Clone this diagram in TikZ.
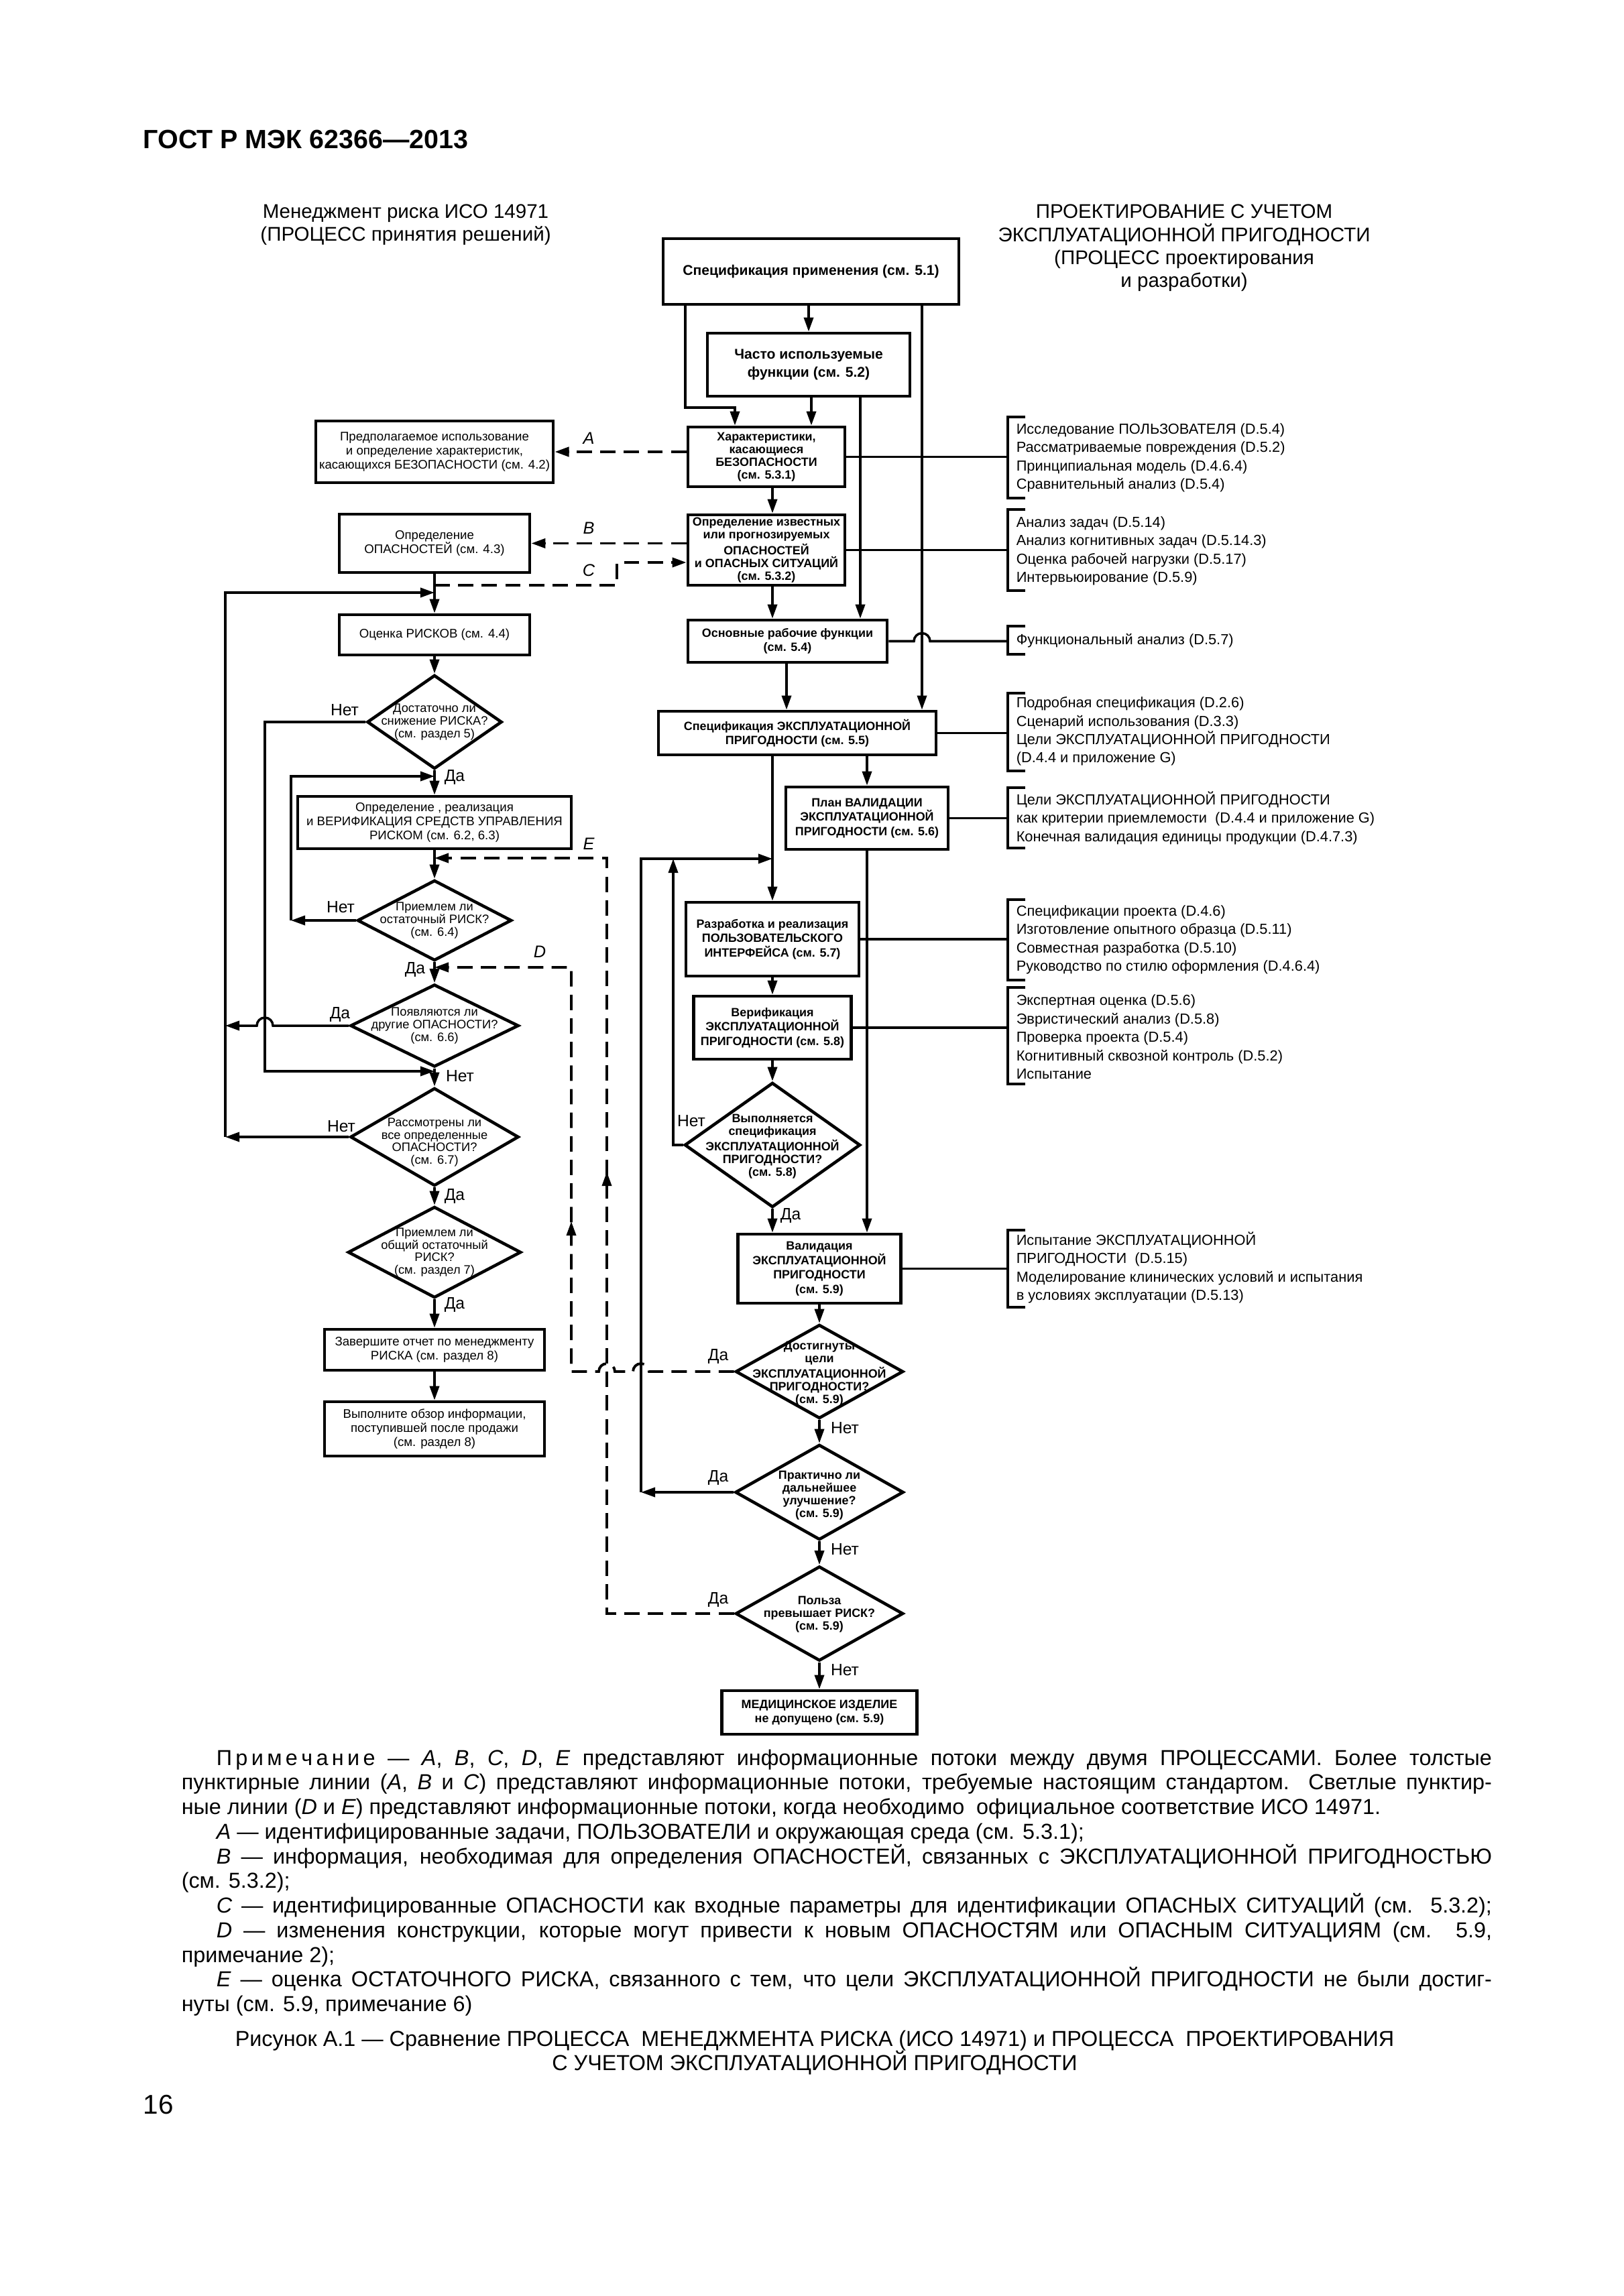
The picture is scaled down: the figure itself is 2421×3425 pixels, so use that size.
\documentclass[tikz,border=0pt]{standalone}
\usepackage{fontspec}
\setmainfont{Liberation Sans}
\usetikzlibrary{shapes.geometric,arrows.meta}

\newcommand{\ttlfnt}{\fontsize{11.2}{13}\selectfont\bfseries}
\newcommand{\hfnt}{\fontsize{8.4}{9.8}\selectfont}
\newcommand{\cbig}{\fontsize{6}{7.6}\selectfont\bfseries}
\newcommand{\cfnt}{\fontsize{5.1}{6.1}\selectfont\bfseries}
\newcommand{\ctight}{\fontsize{5.1}{5.4}\selectfont\bfseries}
\newcommand{\lfnt}{\fontsize{5.3}{6}\selectfont}
\newcommand{\ldfnt}{\fontsize{5.2}{5.3}\selectfont}
\newcommand{\rfnt}{\fontsize{6.2}{7.8}\selectfont}
\newcommand{\ynfnt}{\fontsize{7}{8}\selectfont}
\newcommand{\abcfnt}{\fontsize{7.2}{8}\selectfont\itshape}
\newcommand{\notefnt}{\fontsize{9.2}{10.45}\selectfont}

\tikzset{
  proc/.style={draw, line width=1.3pt, inner sep=0pt, align=center, font=\cfnt},
  lproc/.style={draw, line width=1.3pt, inner sep=0pt, align=center, font=\lfnt},
  decision/.style={diamond, draw, line width=1.3pt, inner sep=0pt},
  dtxt/.style={inner sep=0pt, align=center, font=\ctight},
  ldtxt/.style={inner sep=0pt, align=center, font=\ldfnt},
  yn/.style={inner sep=0pt, font=\ynfnt},
  flowname/.style={inner sep=0pt, font=\abcfnt},
  dline/.style={line width=1.1pt, dash pattern=on 6.5pt off 3.5pt},
  brk/.style={line width=1.2pt},
  refs/.style={anchor=west, inner sep=0pt, align=left, font=\rfnt},
}

\begin{document}
\begin{tikzpicture}[x=0.01cm,y=-0.01cm,>={Triangle[length=6pt,width=4pt]},line width=1pt]
  \path[use as bounding box, fill=white] (0,0) rectangle (2421,3425);

  % headings
  \node[anchor=west, inner sep=0pt, font=\ttlfnt] (title) at (212,208) {ГОСТ Р МЭК 62366—2013};
  \node[align=center, inner sep=0pt, font=\hfnt] (hleft) at (605,335)
    {Менеджмент риска ИСО 14971\\(ПРОЦЕСС принятия решений)};
  \node[align=center, inner sep=0pt, font=\hfnt] (hright) at (1766,370)
    {ПРОЕКТИРОВАНИЕ С УЧЕТОМ\\ЭКСПЛУАТАЦИОННОЙ ПРИГОДНОСТИ\\(ПРОЦЕСС проектирования\\и разработки)};

  % design process (right column)
  \node[proc, font=\cbig, minimum width=4.41cm, minimum height=0.98cm] (b1) at (1209.5,405)
    {Спецификация применения (см. 5.1)};
  \node[proc, font=\cbig, minimum width=3.02cm, minimum height=0.94cm] (b2) at (1206,544)
    {Часто используемые\\функции (см. 5.2)};
  \node[proc, font=\ctight, minimum width=2.34cm, minimum height=0.89cm] (b3) at (1143,681.5)
    {Характеристики,\\касающиеся\\БЕЗОПАСНОСТИ\\(см. 5.3.1)};
  \node[proc, font=\ctight, minimum width=2.34cm, minimum height=1.05cm] (b4) at (1143,820.5)
    {Определение известных\\или прогнозируемых\\ОПАСНОСТЕЙ\\и ОПАСНЫХ СИТУАЦИЙ\\(см. 5.3.2)};
  \node[proc, minimum width=2.97cm, minimum height=0.63cm] (b5) at (1174.5,956.5)
    {Основные рабочие функции\\(см. 5.4)};
  \node[proc, minimum width=4.14cm, minimum height=0.65cm] (b6) at (1189,1093.5)
    {Спецификация ЭКСПЛУАТАЦИОННОЙ\\ПРИГОДНОСТИ (см. 5.5)};
  \node[proc, minimum width=2.42cm, minimum height=0.93cm] (b7) at (1293,1220.5)
    {План ВАЛИДАЦИИ\\ЭКСПЛУАТАЦИОННОЙ\\ПРИГОДНОСТИ (см. 5.6)};
  \node[proc, minimum width=2.58cm, minimum height=1.10cm] (b8) at (1152,1401)
    {Разработка и реализация\\ПОЛЬЗОВАТЕЛЬСКОГО\\ИНТЕРФЕЙСА (см. 5.7)};
  \node[proc, minimum width=2.35cm, minimum height=0.94cm] (b9) at (1152,1533)
    {Верификация\\ЭКСПЛУАТАЦИОННОЙ\\ПРИГОДНОСТИ (см. 5.8)};
  \node[decision, minimum width=2.62cm, minimum height=1.86cm] (d1) at (1152,1708) {};
  \node[dtxt] (d1t) at (1152,1710)
    {Выполняется\\спецификация\\ЭКСПЛУАТАЦИОННОЙ\\ПРИГОДНОСТИ?\\(см. 5.8)};
  \node[proc, minimum width=2.43cm, minimum height=1.03cm] (b10) at (1222,1892.5)
    {Валидация\\ЭКСПЛУАТАЦИОННОЙ\\ПРИГОДНОСТИ\\(см. 5.9)};
  \node[decision, minimum width=2.50cm, minimum height=1.40cm] (d2) at (1222,2046) {};
  \node[dtxt] (d2t) at (1222,2049)
    {Достигнуты\\цели\\ЭКСПЛУАТАЦИОННОЙ\\ПРИГОДНОСТИ?\\(см. 5.9)};
  \node[decision, minimum width=2.51cm, minimum height=1.42cm] (d3) at (1222,2226) {};
  \node[dtxt] (d3t) at (1222,2231)
    {Практично ли\\дальнейшее\\улучшение?\\(см. 5.9)};
  \node[decision, minimum width=2.50cm, minimum height=1.41cm] (d4) at (1222,2407) {};
  \node[dtxt] (d4t) at (1222,2408)
    {Польза\\превышает РИСК?\\(см. 5.9)};
  \node[proc, minimum width=2.91cm, minimum height=0.65cm] (b11) at (1222,2554.5)
    {МЕДИЦИНСКОЕ ИЗДЕЛИЕ\\не допущено (см. 5.9)};

  % risk management (left column)
  \node[lproc, minimum width=3.54cm, minimum height=0.92cm] (l1) at (648,674)
    {Предполагаемое использование\\и определение характеристик,\\касающихся БЕЗОПАСНОСТИ (см. 4.2)};
  \node[lproc, minimum width=2.84cm, minimum height=0.87cm] (l2) at (648,810.5)
    {Определение\\ОПАСНОСТЕЙ (см. 4.3)};
  \node[lproc, minimum width=2.84cm, minimum height=0.60cm] (l3) at (648,947)
    {Оценка РИСКОВ (см. 4.4)};
  \node[decision, minimum width=2.01cm, minimum height=1.40cm] (ld1) at (648,1077) {};
  \node[ldtxt] (ld1t) at (ld1) {Достаточно ли\\снижение РИСКА?\\(см. раздел 5)};
  \node[lproc, minimum width=4.08cm, minimum height=0.78cm] (l4) at (648,1227)
    {Определение , реализация\\и ВЕРИФИКАЦИЯ СРЕДСТВ УПРАВЛЕНИЯ\\РИСКОМ (см. 6.2, 6.3)};
  \node[decision, minimum width=2.30cm, minimum height=1.20cm] (ld2) at (648,1373) {};
  \node[ldtxt] (ld2t) at (ld2) {Приемлем ли\\остаточный РИСК?\\(см. 6.4)};
  \node[decision, minimum width=2.51cm, minimum height=1.23cm] (ld3) at (648,1530) {};
  \node[ldtxt] (ld3t) at (ld3) {Появляются ли\\другие ОПАСНОСТИ?\\(см. 6.6)};
  \node[decision, minimum width=2.51cm, minimum height=1.46cm] (ld4) at (648,1696) {};
  \node[ldtxt] (ld4t) at (648,1704) {Рассмотрены ли\\все определенные\\ОПАСНОСТИ?\\(см. 6.7)};
  \node[decision, minimum width=2.58cm, minimum height=1.36cm] (ld5) at (648,1868) {};
  \node[ldtxt] (ld5t) at (ld5) {Приемлем ли\\общий остаточный\\РИСК?\\(см. раздел 7)};
  \node[lproc, minimum width=3.28cm, minimum height=0.61cm] (l5) at (648,2013.5)
    {Завершите отчет по менеджменту\\РИСКА (см. раздел 8)};
  \node[lproc, minimum width=3.28cm, minimum height=0.81cm] (l6) at (648,2131.5)
    {Выполните обзор информации,\\поступившей после продажи\\(см. раздел 8)};

  % method lists
  \node[refs] (g1) at (1514,683) {Исследование ПОЛЬЗОВАТЕЛЯ (D.5.4)\\Рассматриваемые повреждения (D.5.2)\\Принципиальная модель (D.4.6.4)\\Сравнительный анализ (D.5.4)};
  \node[refs] (g2) at (1514,822) {Анализ задач (D.5.14)\\Анализ когнитивных задач (D.5.14.3)\\Оценка рабочей нагрузки (D.5.17)\\Интервьюирование (D.5.9)};
  \node[refs] (g3) at (1514,956) {Функциональный анализ (D.5.7)};
  \node[refs] (g4) at (1514,1091) {Подробная спецификация (D.2.6)\\Сценарий использования (D.3.3)\\Цели ЭКСПЛУАТАЦИОННОЙ ПРИГОДНОСТИ\\(D.4.4 и приложение G)};
  \node[refs] (g5) at (1514,1220) {Цели ЭКСПЛУАТАЦИОННОЙ ПРИГОДНОСТИ\\как критерии приемлемости\ \ (D.4.4 и приложение G)\\Конечная валидация единицы продукции (D.4.7.3)};
  \node[refs] (g6) at (1514,1402) {Спецификации проекта (D.4.6)\\Изготовление опытного образца (D.5.11)\\Совместная разработка (D.5.10)\\Руководство по стилю оформления (D.4.6.4)};
  \node[refs] (g7) at (1514,1547) {Экспертная оценка (D.5.6)\\Эвристический анализ (D.5.8)\\Проверка проекта (D.5.4)\\Когнитивный сквозной контроль (D.5.2)\\Испытание};
  \node[refs] (g8) at (1514,1891) {Испытание ЭКСПЛУАТАЦИОННОЙ\\ПРИГОДНОСТИ\ \ (D.5.15)\\Моделирование клинических условий и испытания\\в условиях эксплуатации (D.5.13)};
  \foreach \t/\b in {622/743, 760/881, 934/976, 1034/1150, 1175/1265, 1342/1462, 1473/1617, 1835/1950}
    \draw[brk] (1529,\t) -- (1503,\t) -- (1503,\b) -- (1529,\b);

  % design process connectors
  \draw[->] (b2.north |- b1.south) -- (b2.north);
  \draw[->] (b1.south -| 1022,0) -- (1022,608) -- (1096,608) -- (b3.north -| 1096,0);
  \draw[->] (b2.south -| 1210,0) -- (b3.north -| 1210,0);
  \draw[->] (b2.south -| 1283,0) -- (b5.north -| 1283,0);
  \draw[->] (b1.south -| 1375,0) -- (b6.north -| 1375,0);
  \draw[->] (b3.south -| 1152,0) -- (b4.north -| 1152,0);
  \draw[->] (b4.south -| 1152,0) -- (b5.north -| 1152,0);
  \draw[->] (b5.south -| 1173,0) -- (b6.north -| 1173,0);
  \draw[->] (b7.north |- b6.south) -- (b7.north);
  \draw[->] (b8.north |- b6.south) -- (b8.north);
  \draw[->] (b8.south) -- (b9.north);
  \draw[->] (b9.south) -- (d1.north);
  \draw[->] (d1.south) -- (b10.north -| d1.south);
  \draw[->] (b7.south) -- (b10.north -| b7.south);
  \draw[->] (b10.south) -- (d2.north);
  \draw[->] (d2.south) -- (d3.north);
  \draw[->] (d3.south) -- (d4.north);
  \draw[->] (d4.south) -- (b11.north);
  \coordinate (jui) at (1152,1281);
  \draw[->] (d1.west) -- (d1.west -| 1004,0) -- (1004,1281);
  \draw[->] (d3.west) -- (d3.west -| 956,0);
  \draw[->] (d3.west -| 956,0) -- (956,1281) -- (jui);

  % links to the method lists
  \coordinate (brk) at (1503,0);
  \draw (b3.east) -- (b3.east -| brk);
  \draw (b4.east) -- (b4.east -| brk);
  \draw (b5.east) -- (1363,956.5) arc[start angle=180, end angle=360, radius=12] -- (b5.east -| brk);
  \draw (b6.east) -- (b6.east -| brk);
  \draw (b7.east) -- (b7.east -| brk);
  \draw (b8.east) -- (b8.east -| brk);
  \draw (b9.east) -- (b9.east -| brk);
  \draw (b10.east) -- (b10.east -| brk);

  % risk management connectors
  \coordinate (jc) at (648,873);
  \coordinate (jrisk) at (648,884);
  \coordinate (jctl) at (648,1158);
  \coordinate (jres) at (648,1280);
  \coordinate (jhaz) at (648,1443);
  \coordinate (jall) at (648,1598);
  \draw[->] (l2.south) -- (l3.north);
  \draw[->] (l3.south) -- (ld1.north);
  \draw[->] (ld1.south) -- (l4.north);
  \draw[->] (l4.south) -- (ld2.north);
  \draw[->] (ld2.south) -- (ld3.north);
  \draw[->] (ld3.south) -- (ld4.north);
  \draw[->] (ld4.south) -- (ld5.north);
  \draw[->] (ld5.south) -- (l5.north);
  \draw[->] (l5.south) -- (l6.north);
  \draw[->] (ld1.west) -- (ld1.west -| 395,0) -- (jall -| 395,0) -- (jall);
  \draw[->] (ld2.west) -- (ld2.west -| 434,0);
  \draw[->] (ld2.west -| 434,0) -- (jctl -| 434,0) -- (jctl);
  \draw[->] (ld3.west) -- (407,1530) arc[start angle=0, end angle=-180, radius=12] -- (ld3.west -| 336,0);
  \draw[->] (ld4.west) -- (ld4.west -| 336,0);
  \draw[->] (ld4.west -| 336,0) -- (jrisk -| 336,0) -- (jrisk);

  % information flows A--E
  \draw[dline,->] (b3.west |- l1.east) -- (l1.east);
  \draw[dline,->] (b4.west |- l2.east) -- (l2.east);
  \draw[dline,->] (jc) -- (920,873) -- (920,839) -- (b4.west |- 0,839);
  \draw[dline,->] (d2.west) -- (968,2046) arc[start angle=0, end angle=-180, radius=12]
    -- (917,2046) arc[start angle=0, end angle=-180, radius=12] -- (852,2046) -- (852,1443) -- (jhaz);
  \draw[->] (852,1845) -- (852,1822);
  \draw[dline,->] (d4.west) -- (d4.west -| 905,0) -- (905,1280) -- (jres);
  \draw[->] (905,1770) -- (905,1748);
  \node[flowname] (fa) at (878,654) {A};
  \node[flowname] (fb) at (878,788) {B};
  \node[flowname] (fc) at (878,851) {C};
  \node[flowname] (fe) at (878,1259) {E};
  \node[flowname] (fd) at (805,1420) {D};

  % yes / no labels
  \node[yn] (ld1no) at (514,1059) {Нет};
  \node[yn] (ld1yes) at (678,1159) {Да};
  \node[yn] (ld2no) at (508,1353) {Нет};
  \node[yn] (ld2yes) at (619,1446) {Да};
  \node[yn] (ld3yes) at (507,1513) {Да};
  \node[yn] (ld3no) at (686,1605) {Нет};
  \node[yn] (ld4no) at (509,1680) {Нет};
  \node[yn] (ld4yes) at (678,1784) {Да};
  \node[yn] (ld5yes) at (678,1946) {Да};
  \node[yn] (d1no) at (1031,1672) {Нет};
  \node[yn] (d1yes) at (1179,1813) {Да};
  \node[yn] (d2yes) at (1071,2023) {Да};
  \node[yn] (d2no) at (1260,2130) {Нет};
  \node[yn] (d3yes) at (1071,2204) {Да};
  \node[yn] (d3no) at (1260,2311) {Нет};
  \node[yn] (d4yes) at (1071,2386) {Да};
  \node[yn] (d4no) at (1260,2491) {Нет};

  % note and caption
  \node[anchor=north west, inner sep=0pt, align=left, font=\notefnt] (note) at (269,2608) {%
    \hspace*{0.52cm}\makebox[19.01cm][s]{П\,р\,и\,м\,е\,ч\,а\,н\,и\,е — \textit{A}, \textit{B}, \textit{C}, \textit{D}, \textit{E} представляют информационные потоки между двумя ПРОЦЕССАМИ. Более толстые}\\
    \makebox[19.53cm][s]{пунктирные линии (\textit{A}, \textit{B} и \textit{C}) представляют информационные потоки, требуемые настоящим стандартом. Светлые пунктир-}\\
    ные линии (\textit{D} и \textit{E}) представляют информационные потоки, когда необходимо\ \ официальное соответствие ИСО 14971.\\
    \hspace*{0.52cm}\textit{A} — идентифицированные задачи, ПОЛЬЗОВАТЕЛИ и окружающая среда (см. 5.3.1);\\
    \hspace*{0.52cm}\makebox[19.01cm][s]{\textit{B} — информация, необходимая для определения ОПАСНОСТЕЙ, связанных с ЭКСПЛУАТАЦИОННОЙ ПРИГОДНОСТЬЮ}\\
    (см. 5.3.2);\\
    \hspace*{0.52cm}\makebox[19.01cm][s]{\textit{C} — идентифицированные ОПАСНОСТИ как входные параметры для идентификации ОПАСНЫХ СИТУАЦИЙ (см. 5.3.2);}\\
    \hspace*{0.52cm}\makebox[19.01cm][s]{\textit{D} — изменения конструкции, которые могут привести к новым ОПАСНОСТЯМ или ОПАСНЫМ СИТУАЦИЯМ (см. 5.9,}\\
    примечание 2);\\
    \hspace*{0.52cm}\makebox[19.01cm][s]{\textit{E} — оценка ОСТАТОЧНОГО РИСКА, связанного с тем, что цели ЭКСПЛУАТАЦИОННОЙ ПРИГОДНОСТИ не были достиг-}\\
    нуты (см. 5.9, примечание 6)};
  \node[align=center, inner sep=0pt, font=\notefnt] (caption) at (1215,3062)
    {Рисунок А.1 — Сравнение ПРОЦЕССА\ \ МЕНЕДЖМЕНТА РИСКА (ИСО 14971) и ПРОЦЕССА\ \ ПРОЕКТИРОВАНИЯ\\С УЧЕТОМ ЭКСПЛУАТАЦИОННОЙ ПРИГОДНОСТИ};
  \node[anchor=west, inner sep=0pt, font=\fontsize{11.5}{13}\selectfont] (pgno) at (212,3140) {16};
\end{tikzpicture}
\end{document}
